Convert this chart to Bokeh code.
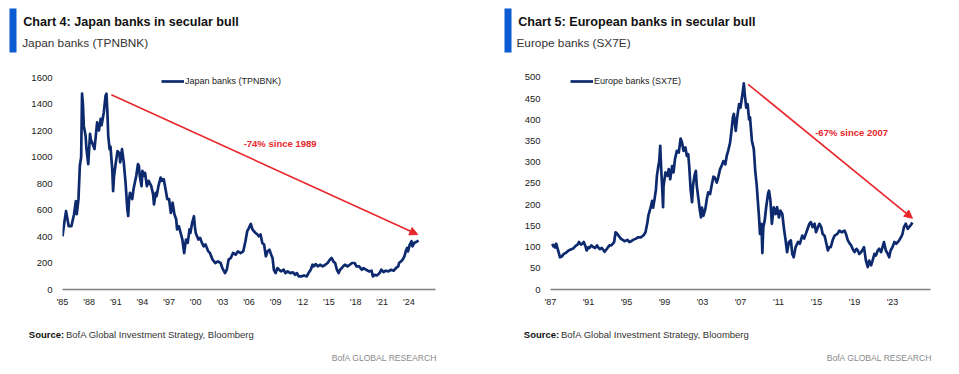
from bokeh.plotting import figure
from bokeh.layouts import row, column
from bokeh.models import (Range1d, FixedTicker, Label, Legend, LegendItem, Arrow,
                          NormalHead, BoxAnnotation, ColumnDataSource)
from bokeh.embed import file_html
from bokeh.resources import INLINE

# ---------------- data: Japan banks (TPNBNK) ----------------
jp_years = [1985.0, 1985.2, 1985.4, 1985.7, 1986.0, 1986.3, 1986.5, 1986.6, 1986.8, 1986.95,
            1987.1, 1987.2, 1987.3, 1987.4, 1987.6, 1987.7, 1987.9, 1988.1, 1988.2, 1988.5,
            1988.6, 1988.9, 1989.1, 1989.3, 1989.4, 1989.65, 1989.85, 1989.95, 1990.05, 1990.15,
            1990.3, 1990.4, 1990.6, 1990.7, 1990.8, 1991.0, 1991.2, 1991.4, 1991.5, 1991.7,
            1991.9, 1992.1, 1992.3, 1992.4, 1992.5, 1992.6, 1992.85, 1993.0, 1993.3, 1993.5,
            1993.6, 1993.7, 1993.9, 1994.0, 1994.2, 1994.3, 1994.5, 1994.7, 1995.0, 1995.2,
            1995.3, 1995.5, 1995.6, 1995.8, 1996.05, 1996.2, 1996.4, 1996.6, 1996.8, 1997.0,
            1997.2, 1997.4, 1997.6, 1997.8, 1997.9, 1998.1, 1998.3, 1998.5, 1998.7, 1998.9,
            1999.1, 1999.3, 1999.4, 1999.6, 1999.8, 1999.9, 2000.0, 2000.3, 2000.5, 2000.7,
            2000.9, 2001.1, 2001.4, 2001.6, 2001.9, 2002.2, 2002.5, 2002.8, 2003.0, 2003.3,
            2003.5, 2003.7, 2003.95, 2004.2, 2004.5, 2004.75, 2005.05, 2005.35, 2005.6, 2005.8,
            2006.0, 2006.2, 2006.4, 2006.55, 2006.75, 2006.95, 2007.1, 2007.3, 2007.5, 2007.7,
            2007.9, 2008.1, 2008.3, 2008.5, 2008.65, 2008.8, 2009.0, 2009.2, 2009.4, 2009.6,
            2009.9, 2010.1, 2010.35, 2010.65, 2010.95, 2011.2, 2011.4, 2011.6, 2011.9, 2012.2,
            2012.5, 2012.7, 2012.95, 2013.15, 2013.3, 2013.5, 2013.75, 2014.0, 2014.3, 2014.6,
            2014.85, 2015.1, 2015.3, 2015.5, 2015.7, 2015.9, 2016.1, 2016.25, 2016.45, 2016.6,
            2016.8, 2017.1, 2017.35, 2017.6, 2017.9, 2018.1, 2018.4, 2018.7, 2018.9, 2019.2,
            2019.5, 2019.8, 2019.95, 2020.15, 2020.4, 2020.7, 2020.9, 2021.15, 2021.4, 2021.7,
            2022.0, 2022.3, 2022.55, 2022.8, 2022.9, 2023.1, 2023.3, 2023.5, 2023.65, 2023.8,
            2023.9, 2024.1, 2024.3, 2024.4, 2024.6, 2025.1]
jp_values = [402, 503, 591, 478, 478, 568, 667, 568, 682, 932,
             1000, 1478, 1400, 1235, 1160, 1061, 947, 1175, 1130, 1080,
             1060, 1261, 1200, 1288, 1240, 1336, 1463, 1478, 1350, 1160,
             1060, 1080, 910, 743, 855, 957, 1045, 1030, 960, 1060,
             960, 806, 606, 555, 682, 730, 682, 758, 857, 947,
             935, 857, 780, 895, 857, 880, 780, 820, 780, 718,
             642, 730, 705, 780, 845, 820, 833, 758, 682, 682,
             578, 655, 568, 530, 453, 478, 427, 377, 275, 377,
             352, 453, 427, 503, 553, 478, 427, 377, 390, 352,
             326, 340, 290, 276, 225, 200, 212, 200, 162, 124,
             150, 225, 238, 276, 263, 288, 275, 288, 364, 440,
             465, 495, 452, 440, 427, 415, 402, 415, 351, 339,
             250, 288, 301, 263, 238, 149, 124, 162, 149, 137,
             149, 124, 137, 124, 129, 111, 124, 99, 99, 106,
             99, 124, 149, 187, 175, 192, 175, 187, 175, 187,
             200, 225, 238, 212, 200, 149, 124, 149, 162, 175,
             187, 175, 187, 200, 200, 175, 175, 149, 162, 149,
             137, 142, 99, 111, 106, 124, 149, 131, 142, 137,
             149, 142, 162, 175, 200, 212, 225, 250, 288, 314,
             288, 339, 364, 326, 351, 369]
jp_xticks = [1985, 1988, 1991, 1994, 1997, 2000, 2003, 2006, 2009, 2012, 2015, 2018, 2021, 2024]
jp_xlabels = ["'85", "'88", "'91", "'94", "'97", "'00", "'03", "'06", "'09", "'12", "'15", "'18", "'21", "'24"]
jp_yticks = [0, 200, 400, 600, 800, 1000, 1200, 1400, 1600]
jp_arrow_start = (1990.5, 1470)
jp_arrow_end = (2025.0, 415)
jp_note = "-74% since 1989"
jp_note_pos = (2009.5, 1100)
jp_title = "Chart 4: Japan banks in secular bull"
jp_subtitle = "Japan banks (TPNBNK)"

# ---------------- data: Europe banks (SX7E) ----------------
eu_years = [1987.2, 1987.3, 1987.4, 1987.5, 1987.6, 1988.0, 1988.2, 1988.4, 1988.6, 1988.9,
            1989.2, 1989.4, 1989.65, 1989.85, 1990.0, 1990.2, 1990.4, 1990.5, 1990.7, 1990.8,
            1991.0, 1991.1, 1991.3, 1991.5, 1991.7, 1991.9, 1992.0, 1992.2, 1992.4, 1992.7,
            1993.0, 1993.2, 1993.4, 1993.7, 1993.85, 1994.0, 1994.2, 1994.4, 1994.6, 1994.8,
            1995.1, 1995.3, 1995.5, 1995.7, 1996.0, 1996.2, 1996.5, 1996.8, 1997.0, 1997.2,
            1997.3, 1997.5, 1997.7, 1997.8, 1997.95, 1998.1, 1998.2, 1998.35, 1998.45, 1998.55,
            1998.65, 1998.75, 1998.85, 1998.9, 1999.1, 1999.3, 1999.45, 1999.6, 1999.8, 1999.95,
            2000.1, 2000.3, 2000.5, 2000.7, 2000.85, 2001.0, 2001.2, 2001.35, 2001.5, 2001.6,
            2001.75, 2001.9, 2002.0, 2002.15, 2002.3, 2002.4, 2002.6, 2002.7, 2002.85, 2002.95,
            2003.1, 2003.3, 2003.45, 2003.6, 2003.8, 2003.95, 2004.15, 2004.3, 2004.5, 2004.65,
            2004.85, 2005.0, 2005.2, 2005.4, 2005.55, 2005.7, 2005.9, 2006.05, 2006.2, 2006.3,
            2006.5, 2006.65, 2006.85, 2007.0, 2007.2, 2007.35, 2007.45, 2007.6, 2007.75, 2007.9,
            2008.0, 2008.2, 2008.4, 2008.55, 2008.7, 2008.95, 2009.05, 2009.2, 2009.3, 2009.4,
            2009.55, 2009.7, 2009.9, 2010.0, 2010.15, 2010.3, 2010.5, 2010.7, 2010.85, 2011.05,
            2011.2, 2011.4, 2011.6, 2011.75, 2011.9, 2012.1, 2012.3, 2012.45, 2012.6, 2012.8,
            2013.05, 2013.25, 2013.5, 2013.7, 2014.0, 2014.25, 2014.4, 2014.6, 2014.8, 2014.95,
            2015.15, 2015.3, 2015.5, 2015.65, 2015.85, 2016.0, 2016.2, 2016.35, 2016.5, 2016.7,
            2016.9, 2017.2, 2017.4, 2017.65, 2017.95, 2018.1, 2018.3, 2018.5, 2018.65, 2018.8,
            2019.0, 2019.2, 2019.35, 2019.5, 2019.7, 2019.9, 2020.0, 2020.2, 2020.4, 2020.55,
            2020.75, 2020.9, 2021.1, 2021.25, 2021.45, 2021.6, 2021.8, 2021.95, 2022.1, 2022.3,
            2022.5, 2022.65, 2022.8, 2023.0, 2023.2, 2023.4, 2023.55, 2023.7, 2023.9, 2024.05,
            2024.2, 2024.4, 2024.6, 2024.75, 2024.9, 2025.1]
eu_values = [108, 102, 104, 99, 108, 76, 78, 84, 86, 92,
             95, 97, 103, 106, 112, 106, 109, 112, 101, 92,
             100, 98, 104, 100, 98, 104, 100, 95, 98, 89,
             98, 104, 104, 112, 135, 132, 126, 120, 117, 114,
             117, 112, 114, 117, 120, 123, 123, 128, 135, 158,
             174, 190, 209, 193, 213, 236, 268, 291, 303, 339,
             284, 244, 194, 244, 276, 268, 284, 260, 291, 276,
             307, 327, 323, 356, 346, 327, 335, 315, 319, 291,
             236, 206, 244, 268, 280, 244, 209, 190, 170, 193,
             174, 190, 213, 229, 225, 244, 266, 264, 252, 264,
             284, 291, 303, 295, 315, 327, 346, 374, 406, 414,
             374, 406, 437, 429, 460, 486, 460, 429, 437, 401,
             406, 351, 331, 280, 248, 170, 131, 155, 86, 147,
             163, 194, 226, 233, 210, 155, 194, 178, 194, 170,
             186, 178, 139, 116, 88, 112, 116, 84, 76, 100,
             112, 108, 127, 120, 139, 155, 159, 147, 155, 135,
             147, 155, 147, 131, 127, 112, 92, 100, 100, 116,
             127, 131, 139, 135, 139, 131, 116, 108, 104, 96,
             88, 96, 92, 84, 88, 96, 100, 68, 53, 68,
             57, 68, 84, 80, 92, 96, 88, 100, 112, 92,
             84, 76, 92, 100, 112, 108, 112, 116, 123, 131,
             147, 155, 143, 147, 151, 158]
eu_xticks = [1987, 1991, 1995, 1999, 2003, 2007, 2011, 2015, 2019, 2023]
eu_xlabels = ["'87", "'91", "'95", "'99", "'03", "'07", "'11", "'15", "'19", "'23"]
eu_yticks = [0, 50, 100, 150, 200, 250, 300, 350, 400, 450, 500]
eu_arrow_start = (2007.8, 484)
eu_arrow_end = (2025.1, 168)
eu_note = "-67% since 2007"
eu_note_pos = (2018.7, 370)
eu_title = "Chart 5: European banks in secular bull"
eu_subtitle = "Europe banks (SX7E)"

source_head = "Source:"
source_text = "BofA Global Investment Strategy, Bloomberg"
brand_text = "BofA GLOBAL RESEARCH"

NAVY = "#0e2a6e"
RED = "#e8262b"
BAR = "#0b5bd3"
FONT = "Liberation Sans"


def blank(width, height):
    f = figure(width=width, height=height, output_backend="svg", toolbar_location=None,
               x_range=Range1d(0, width), y_range=Range1d(height, 0),
               min_border=0, x_axis_type=None, y_axis_type=None, frame_align=False)
    f.outline_line_color = None
    f.grid.visible = False
    return f


def header(width, bar_x, title_x, sub_x, title, subtitle):
    h = blank(width, 68)
    h.add_layout(BoxAnnotation(left=bar_x, right=bar_x + 7, top=8, bottom=52,
                               fill_color=BAR, fill_alpha=1, line_color=None))
    h.add_layout(Label(x=title_x, y=21, text=title, text_font=FONT, text_font_style="bold",
                       text_font_size="12.6px", text_color="#111111", text_baseline="middle"))
    h.add_layout(Label(x=sub_x, y=42, text=subtitle, text_font=FONT,
                       text_font_size="11.8px", text_color="#333333", text_baseline="middle"))
    return h


def footer(width, src_x, rest_x, brand_x):
    f = blank(width, 56)
    f.add_layout(Label(x=src_x, y=15.5, text=source_head, text_font=FONT,
                       text_font_style="bold", text_font_size="9.5px",
                       text_color="#111111", text_baseline="middle"))
    f.add_layout(Label(x=rest_x, y=15.5, text=source_text, text_font=FONT,
                       text_font_size="9.5px", text_color="#333333", text_baseline="middle"))
    f.add_layout(Label(x=brand_x, y=39.5, text=brand_text, text_align="right",
                       text_font=FONT, text_font_size="8.6px", text_color="#8a8a8a",
                       text_baseline="middle"))
    return f


def chart(width, border_right, years, values, series_name, x_range, y_top,
          xticks, xlabels, yticks, arrow_start, arrow_end, note, note_pos, legend_x):
    p = figure(width=width, height=250, output_backend="svg", toolbar_location=None,
               x_range=Range1d(*x_range), y_range=Range1d(0, y_top),
               min_border_left=62, min_border_right=border_right,
               min_border_top=2, min_border_bottom=29, frame_align=False)
    p.outline_line_color = None
    p.grid.visible = False

    src = ColumnDataSource(dict(x=years, y=values))
    r = p.line("x", "y", source=src, line_color=NAVY, line_width=2.7, line_join="round")

    xa = p.xaxis[0]
    xa.ticker = FixedTicker(ticks=xticks)
    xa.major_label_overrides = {t: l for t, l in zip(xticks, xlabels)}
    xa.axis_line_color = "#808080"
    xa.axis_line_width = 1.5
    xa.major_tick_line_color = None
    xa.minor_tick_line_color = None
    xa.major_tick_out = 0
    xa.major_label_standoff = 7
    xa.major_label_text_font = FONT
    xa.major_label_text_font_size = "9px"
    xa.major_label_text_color = "#222222"

    ya = p.yaxis[0]
    ya.ticker = FixedTicker(ticks=yticks)
    ya.axis_line_color = None
    ya.major_tick_line_color = None
    ya.minor_tick_line_color = None
    ya.major_tick_out = 0
    ya.major_label_standoff = 10
    ya.major_label_text_font = FONT
    ya.major_label_text_font_size = "9.5px"
    ya.major_label_text_color = "#222222"

    leg = Legend(items=[LegendItem(label=series_name, renderers=[r])],
                 location=(legend_x, 202), orientation="horizontal",
                 glyph_width=23, glyph_height=12, label_height=12, label_standoff=1,
                 padding=0, margin=0, border_line_alpha=0, background_fill_alpha=0,
                 label_text_font=FONT, label_text_font_size="9px",
                 label_text_color="#222222")
    p.add_layout(leg)

    p.add_layout(Arrow(end=NormalHead(size=8, fill_color=RED, line_color=RED, line_width=1),
                       x_start=arrow_start[0], y_start=arrow_start[1],
                       x_end=arrow_end[0], y_end=arrow_end[1],
                       line_color=RED, line_width=1.6))
    p.add_layout(Label(x=note_pos[0], y=note_pos[1], text=note, text_color=RED,
                       text_font=FONT, text_font_style="bold",
                       text_font_size="9.5px", text_align="center", text_baseline="middle"))
    return p


p1 = chart(488, 53, jp_years, jp_values, "Japan banks (TPNBNK)", (1985, 2027), 1653,
           jp_xticks, jp_xlabels, jp_yticks, jp_arrow_start, jp_arrow_end,
           jp_note, jp_note_pos, 99)
p2 = chart(471, 29, eu_years, eu_values, "Europe banks (SX7E)", (1987, 2027), 516.5,
           eu_xticks, eu_xlabels, eu_yticks, eu_arrow_start, eu_arrow_end,
           eu_note, eu_note_pos, 20)

left = column(header(488, 9, 22.7, 21.7, jp_title, jp_subtitle), p1,
              footer(488, 28.3, 65.5, 436.7))
right = column(header(471, 16, 29.7, 28, eu_title, eu_subtitle), p2,
               footer(471, 35.3, 72.5, 443.7))

layout = row(left, right)
open("out.html", "w").write(file_html(layout, INLINE))
